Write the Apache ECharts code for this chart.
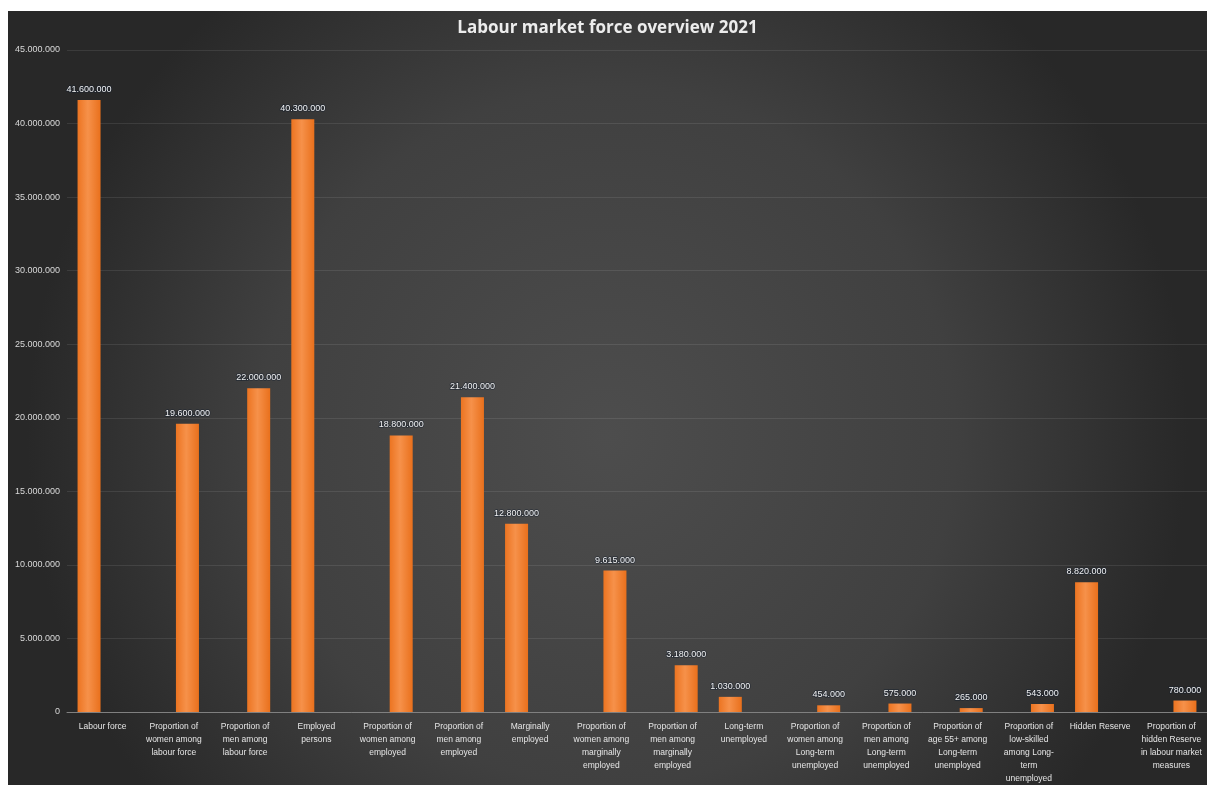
<!DOCTYPE html>
<html>
<head>
<meta charset="utf-8">
<script src="https://cdn.jsdelivr.net/npm/echarts@6/dist/echarts.min.js"></script>
<style>
html,body{margin:0;padding:0;background:#ffffff;width:1207px;height:785px;overflow:hidden;}
#chart{position:absolute;left:8px;top:11px;width:1199px;height:774px;}
</style>
</head>
<body>
<div id="chart"></div>
<script>
const categories = [
  "Labour force",
  "Proportion of\nwomen among\nlabour force",
  "Proportion of\nmen among\nlabour force",
  "Employed\npersons",
  "Proportion of\nwomen among\nemployed",
  "Proportion of\nmen among\nemployed",
  "Marginally\nemployed",
  "Proportion of\nwomen among\nmarginally\nemployed",
  "Proportion of\nmen among\nmarginally\nemployed",
  "Long-term\nunemployed",
  "Proportion of\nwomen among\nLong-term\nunemployed",
  "Proportion of\nmen among\nLong-term\nunemployed",
  "Proportion of\nage 55+ among\nLong-term\nunemployed",
  "Proportion of\nlow-skilled\namong Long-\nterm\nunemployed",
  "Hidden Reserve",
  "Proportion of\nhidden Reserve\nin labour market\nmeasures"
];
const totals = [41600000, null, null, 40300000, null, null, 12800000, null, null, 1030000, null, null, null, null, 8820000, null];
const proportions = [null, 19600000, 22000000, null, 18800000, 21400000, null, 9615000, 3180000, null, 454000, 575000, 265000, 543000, null, 780000];
const yTicks = { min: 0, max: 45000000, interval: 5000000 };

function fmt(v){ return String(Math.round(v)).replace(/\B(?=(\d{3})+(?!\d))/g, '.'); }

const barColor = new echarts.graphic.LinearGradient(0,0,1,0,[
  {offset:0,color:'#ec7421'},{offset:0.45,color:'#f6914a'},{offset:1,color:'#e9701c'}
]);
const lbl = {
  show:true, position:'top', distance:6, color:'#f2f2f2', fontSize:9,
  fontFamily:'Liberation Sans', textBorderColor:'rgba(20,30,45,0.6)', textBorderWidth:1.5,
  formatter: p => fmt(p.value)
};

const chart = echarts.init(document.getElementById('chart'), null, {renderer:'canvas'});
chart.setOption({
  animation:false,
  backgroundColor: new echarts.graphic.RadialGradient(0.5,0.55,0.75,[
    {offset:0,color:'#4d4d4d'},{offset:0.6,color:'#404040'},{offset:1,color:'#282828'}
  ]),
  title:{
    text:'Labour market force overview 2021', left:'center', top:4,
    textStyle:{color:'#ececec', fontSize:17, fontWeight:'bold', fontFamily:'Open Sans'}
  },
  grid:{left:59, right:-2, top:39, bottom:67, containLabel:false},
  xAxis:{
    type:'category', data:categories,
    axisLine:{show:true, lineStyle:{color:'#808080', width:1}},
    axisTick:{show:false},
    axisLabel:{interval:0, color:'#e6e6e6', fontSize:8.5, fontFamily:'Liberation Sans',
      lineHeight:13, margin:8, align:'center'}
  },
  yAxis:{
    type:'value', min:yTicks.min, max:yTicks.max, interval:yTicks.interval,
    axisLine:{show:false}, axisTick:{show:false},
    splitLine:{lineStyle:{color:'rgba(255,255,255,0.09)', width:1}},
    axisLabel:{color:'#d9d9d9', fontSize:9, fontFamily:'Liberation Sans', margin:7,
      formatter: v => fmt(v)}
  },
  series:[
    {name:'Total', type:'bar', data:totals, barWidth:23, barGap:'18%',
      itemStyle:{color:barColor}, label:lbl},
    {name:'Proportion', type:'bar', data:proportions, barWidth:23,
      itemStyle:{color:barColor}, label:lbl}
  ]
});
</script>
</body>
</html>
